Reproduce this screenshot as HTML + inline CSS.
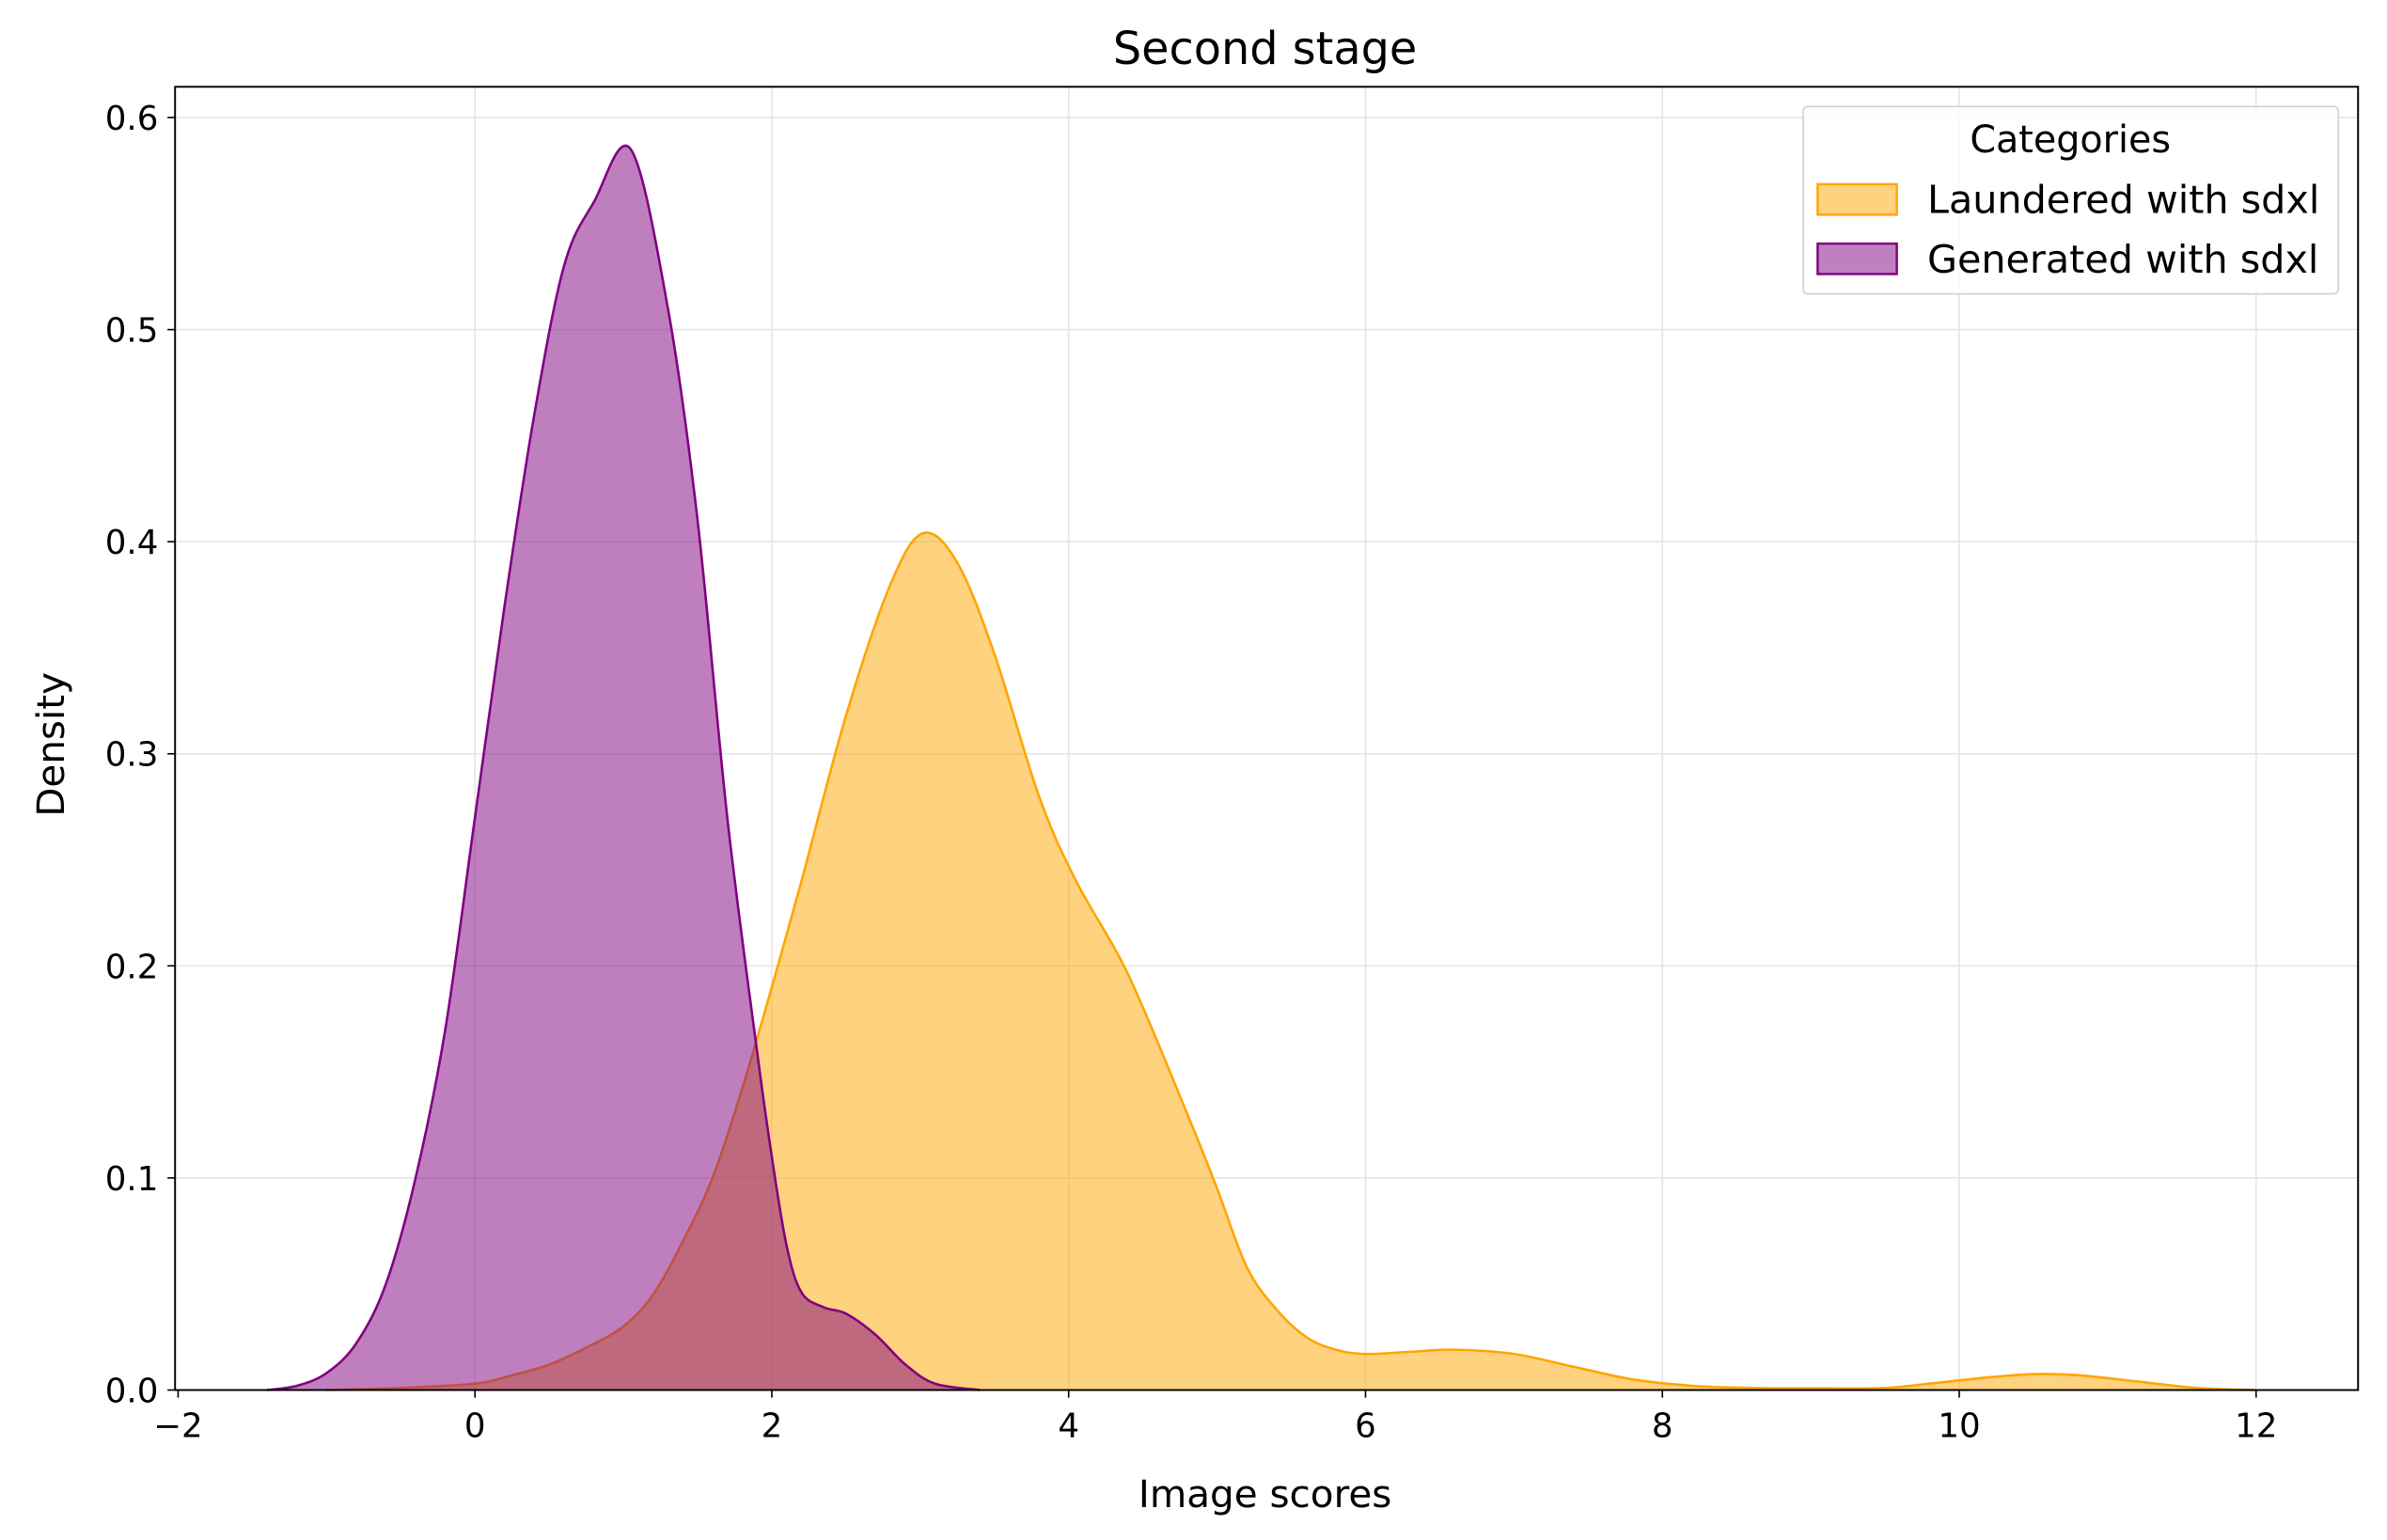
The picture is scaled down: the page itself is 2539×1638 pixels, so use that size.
<!DOCTYPE html>
<html><head><meta charset="utf-8"><style>
html,body{margin:0;padding:0;background:#fff;}
svg{display:block;font-family:"DejaVu Sans","Liberation Sans",sans-serif;}
</style></head><body>
<svg id="chart" width="2539" height="1638" viewBox="0 0 1568 1011.5" preserveAspectRatio="none" xmlns="http://www.w3.org/2000/svg">
<rect width="1568" height="1011.5" fill="#fff"/>
<g id="grid"></g>
<g id="series"></g>
<rect x="115" y="57" width="1434" height="856" fill="none" stroke="#000" stroke-width="1.2"/>
<g id="axes"></g>
<text x="831" y="42" text-anchor="middle" font-size="29.5">Second stage</text>
<text x="831" y="990" text-anchor="middle" font-size="25">Image scores</text>
<text x="42" y="489" text-anchor="middle" font-size="25" transform="rotate(-90 42 489)">Density</text>
<g>
<rect x="1184.5" y="70" width="351.5" height="123" fill="#fff" fill-opacity="0.8" stroke="#d0d0d0" stroke-width="1" rx="3"/>
<text x="1360" y="100" text-anchor="middle" font-size="24.5">Categories</text>
<rect x="1194" y="121" width="52" height="20" fill="#ffd27f" stroke="#FFA500" stroke-width="1.5"/>
<text x="1266" y="140" font-size="25.5">Laundered with sdxl</text>
<rect x="1194" y="160" width="52" height="20" fill="#bf80bf" stroke="#800080" stroke-width="1.5"/>
<text x="1266" y="179" font-size="25.5">Generated with sdxl</text>
</g>
</svg>
<script>
const xTicks = [-2, 0, 2, 4, 6, 8, 10, 12];
const yTicks = [0, 0.1, 0.2, 0.3, 0.4, 0.5, 0.6];
const yTickLabels = ["0.0","0.1","0.2","0.3","0.4","0.5","0.6"];
const xTickLabels = ["\u22122","0","2","4","6","8","10","12"];
const genX = [-1.4,-1.2,-1.0,-0.8,-0.6,-0.4,-0.2,0,0.2,0.4,0.6,0.8,1.05,1.3,1.5,1.7,1.9,2.0,2.1,2.2,2.35,2.5,2.7,2.9,3.1,3.4];
const genY = [0,0.002,0.008,0.022,0.05,0.1,0.17,0.27,0.37,0.46,0.53,0.56,0.585,0.51,0.41,0.27,0.16,0.11,0.068,0.046,0.039,0.036,0.026,0.012,0.003,0];
const launX = [-1.0,-0.5,0,0.25,0.5,0.75,1.0,1.2,1.4,1.6,1.8,2.0,2.2,2.5,2.8,3.02,3.25,3.5,3.8,4.05,4.4,4.8,5.0,5.2,5.4,5.6,5.8,6.0,6.3,6.6,7.0,7.4,7.8,8.2,8.6,9.0,9.5,9.8,10.2,10.5,10.8,11.2,11.6,12.0];
const launY = [0,0.001,0.003,0.007,0.012,0.02,0.03,0.045,0.07,0.1,0.142,0.19,0.24,0.318,0.38,0.404,0.39,0.347,0.28,0.24,0.196,0.13,0.095,0.058,0.038,0.025,0.019,0.017,0.018,0.019,0.017,0.011,0.005,0.002,0.001,0.0008,0.001,0.003,0.006,0.0075,0.007,0.004,0.001,0];

const X = v => 312 + v * 97.5;
const Y = v => 913 - v * 1393;
const NS = "http://www.w3.org/2000/svg";
const grid = document.getElementById('grid'), axes = document.getElementById('axes'), series = document.getElementById('series');
function mk(tag, attrs, parent){const e=document.createElementNS(NS,tag);for(const k in attrs)e.setAttribute(k,attrs[k]);parent.appendChild(e);return e;}

xTicks.forEach((t,i)=>{
  const x=X(t);
  if(t>-2){const g=mk('line',{x1:x,x2:x,y1:57,y2:913,stroke:'#e5e5e5','stroke-width':1},grid);
  
  }
  const tk=mk('line',{x1:x,x2:x,y1:913,y2:918,stroke:'#000','stroke-width':1},axes);
  
  
  const lb=mk('text',{x:x,y:944,'text-anchor':'middle','font-size':22},axes);
  lb.textContent=xTickLabels[i];
  
  
});
yTicks.forEach((t,i)=>{
  const y=Y(t);
  if(t>0){const g=mk('line',{x1:115,x2:1549,y1:y,y2:y,stroke:'#e5e5e5','stroke-width':1},grid);
  
  }
  const tk=mk('line',{x1:110,x2:115,y1:y,y2:y,stroke:'#000','stroke-width':1},axes);
  
  
  const lb=mk('text',{x:104,y:y+8,'text-anchor':'end','font-size':22},axes);
  lb.textContent=yTickLabels[i];
  
  
});

function smooth(xs,ys){
  const p=xs.map((x,i)=>[X(x),Y(ys[i])]);
  let d='M'+p[0][0]+','+p[0][1];
  for(let i=0;i<p.length-1;i++){
    const p0=p[i-1]||p[i],p1=p[i],p2=p[i+1],p3=p[i+2]||p[i+1];
    const c1=[p1[0]+(p2[0]-p0[0])/6,p1[1]+(p2[1]-p0[1])/6];
    const c2=[p2[0]-(p3[0]-p1[0])/6,p2[1]-(p3[1]-p1[1])/6];
    d+=`C${c1[0]},${Math.min(913,c1[1])} ${c2[0]},${Math.min(913,c2[1])} ${p2[0]},${p2[1]}`;
  }
  return d;
}
function draw(xs,ys,fill,stroke,name){
  const d=smooth(xs,ys);
  const a=mk('path',{d:d+`L${X(xs[xs.length-1])},913L${X(xs[0])},913Z`,fill:fill,'fill-opacity':0.5,stroke:'none'},series);
  
  
  const l=mk('path',{d:d,fill:'none',stroke:stroke,'stroke-width':1.6},series);
  
  
}
draw(launX,launY,'#FFA500','#FFA500','laundered-kde');
draw(genX,genY,'#800080','#800080','generated-kde');
</script>
</body></html>
